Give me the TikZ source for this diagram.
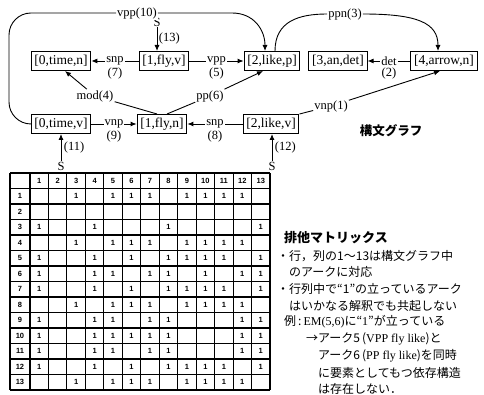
\documentclass[tikz,border=0pt]{standalone}
\usepackage{fontspec}
\setmainfont{Liberation Serif}
\newfontfamily\jp{Noto Sans CJK JP}
\newfontfamily\hv{Liberation Sans}
\usetikzlibrary{arrows.meta}
\begin{document}
\begin{tikzpicture}[x=1pt,y=-1pt,
  box/.style={draw, line width=1pt, inner xsep=3.2pt, inner ysep=2pt, minimum height=19pt, font=\fontsize{13.5}{14}\selectfont},
  lab/.style={fill=white, inner sep=1pt, font=\fontsize{12.5}{13}\selectfont},
  num/.style={inner sep=0.5pt, font=\fontsize{12.5}{13}\selectfont},
  arr/.style={-{Latex[length=6pt,width=5pt]}, line width=0.9pt},
  ln/.style={line width=0.9pt},
  grid/.style={line width=1.1pt},
  cell/.style={inner sep=0pt, font=\hv\bfseries\fontsize{7.5}{8}\selectfont},
  jtext/.style={anchor=west, inner sep=0pt, font=\jp\fontsize{12}{14}\selectfont},
]
\useasboundingbox (0,0) rectangle (484,395);
% ---------------- graph ----------------
\node[box] (n0tn) at (61,61) {[0,time,n]};
\node[box] (n1fv) at (164,61) {[1,fly,v]};
\node[box] (n2lp) at (272,61) {[2,like,p]};
\node[box] (n3ad) at (338,61) {[3,an,det]};
\node[box] (n4an) at (444,61) {[4,arrow,n]};
\node[box] (n0tv) at (61,124) {[0,time,v]};
\node[box] (n1fn) at (162,124) {[1,fly,n]};
\node[box] (n2lv) at (271,124) {[2,like,v]};
\node[num] (s13) at (157,22) {S};
\node[num] (s11) at (61,166) {S};
\node[num] (s12) at (272,166) {S};

\draw[arr] (s13) -- node[num,right=1pt] {(13)} (s13 |- n1fv.north);
\draw[arr] (s11) -- node[num,right=2pt] {(11)} (s11 |- n0tv.south);
\draw[arr] (s12) -- node[num,right=2pt] {(12)} (s12 |- n2lv.south);

\draw[arr] (n1fv) -- node[lab] (l7) {snp} (n0tn);
\node[num, anchor=north] at (l7.south) {(7)};
\draw[arr] (n1fv) -- node[lab] (l5) {vpp} (n2lp);
\node[num, anchor=north] at (l5.south) {(5)};
\draw[arr] (n4an) -- node[lab] (l2) {det} (n3ad);
\node[num, anchor=north] at (l2.south) {(2)};
\draw[arr] (n0tv) -- node[lab] (l9) {vnp} (n1fn);
\node[num, anchor=north] at (l9.south) {(9)};
\draw[arr] (n2lv) -- node[lab] (l8) {snp} (n1fn);
\node[num, anchor=north] at (l8.south) {(8)};

\node[lab] (l4) at (95,96) {mod(4)};
\draw[ln] ([xshift=-5pt]n1fn.north) -- (l4);
\draw[arr] (l4) -- ([xshift=4pt]n0tn.south);
\node[lab] (l6) at (210,96) {pp(6)};
\draw[ln] ([xshift=5pt]n1fn.north) -- (l6);
\draw[arr] (l6) -- ([xshift=-9pt]n2lp.south);
\node[lab] (l1) at (331,106) {vnp(1)};
\draw[ln] (n2lv.north east) -- (l1);
\draw[arr] (l1) -- ([xshift=-4pt]n4an.south);

\node[lab] (l10) at (137,13) {vpp(10)};
\draw[ln, rounded corners=22pt] (l10.west) -- (9,13) -- (9,124) -- (n0tv.west);
\draw[arr] (l10.east) -- (232,13) .. controls (254,13) and (265,30) .. ([xshift=-7pt]n2lp.north);

\node[lab] (l3) at (345,14) {ppn(3)};
\draw[ln] ([xshift=3pt]n2lp.north) .. controls +(0,-30) and +(-28,0) .. (l3.west);
\draw[arr] (l3.east) .. controls +(55,0) and +(0,-28) .. ([xshift=-6pt]n4an.north);

\node[font=\jp\bfseries\fontsize{12.5}{14}\selectfont] (title1) at (391,131) {構文グラフ};

% ---------------- matrix ----------------
\def\mx{30}\def\cw{18.4615}\def\my{173}\def\rh{15.5}
\foreach \k in {0,...,13} \draw[grid] (\mx+\k*\cw,\my) -- (\mx+\k*\cw,\my+14*\rh);
\draw[grid] (10,\my) -- (10,\my+14*\rh);
\foreach \k in {0,...,14} \draw[grid] (10,\my+\k*\rh) -- (\mx+13*\cw,\my+\k*\rh);
\foreach \k in {1,...,13} {
  \node[cell] at (\mx+\k*\cw-0.5*\cw,\my+0.5*\rh) {\k};
  \node[cell] at (20,\my+\k*\rh+0.5*\rh) {\k};
}
\foreach \r/\cols in {1/{3,5,6,7,9,10,11,12},3/{1,4,8,13},4/{3,5,6,7,9,10,11,12},
  5/{1,4,6,8,9,10,11,13},6/{1,4,5,7,8,10,12,13},7/{1,4,6,8,9,10,11,13},
  8/{3,5,6,7,9,10,11,12},9/{1,4,5,7,8,12,13},10/{1,4,5,6,7,8,12,13},
  11/{1,4,5,7,8,12,13},12/{1,4,6,8,9,10,11,13},13/{3,5,6,7,9,10,11,12}} {
  \foreach \c in \cols {
    \node[cell] at (\mx+\c*\cw-0.5*\cw,\my+\r*\rh+0.5*\rh) {1};
  }
}

% ---------------- text ----------------
\node[jtext, font=\jp\bfseries\fontsize{13}{15}\selectfont] (t0) at (284,238) {排他マトリックス};
\node[jtext] (t1) at (277,256) {・行，列の1～13は構文グラフ中};
\node[jtext] (t2) at (289,272) {のアークに対応};
\node[jtext] (t3) at (277,289) {・行列中で“1”の立っているアーク};
\node[jtext] (t4) at (289,306) {はいかなる解釈でも共起しない};
\node[jtext] (t5) at (284,322) {例\,:\,{\rmfamily EM(5,6)}に“{\rmfamily 1}”が立っている};
\node[jtext] (t6) at (306,339) {→アーク5\,({\rmfamily VPP fly like})と};
\node[jtext] (t7) at (318,356) {アーク6\,({\rmfamily PP fly like})を同時};
\node[jtext] (t8) at (318,373) {に要素としてもつ依存構造};
\node[jtext] (t9) at (318,389) {は存在しない．};
\end{tikzpicture}
\end{document}
